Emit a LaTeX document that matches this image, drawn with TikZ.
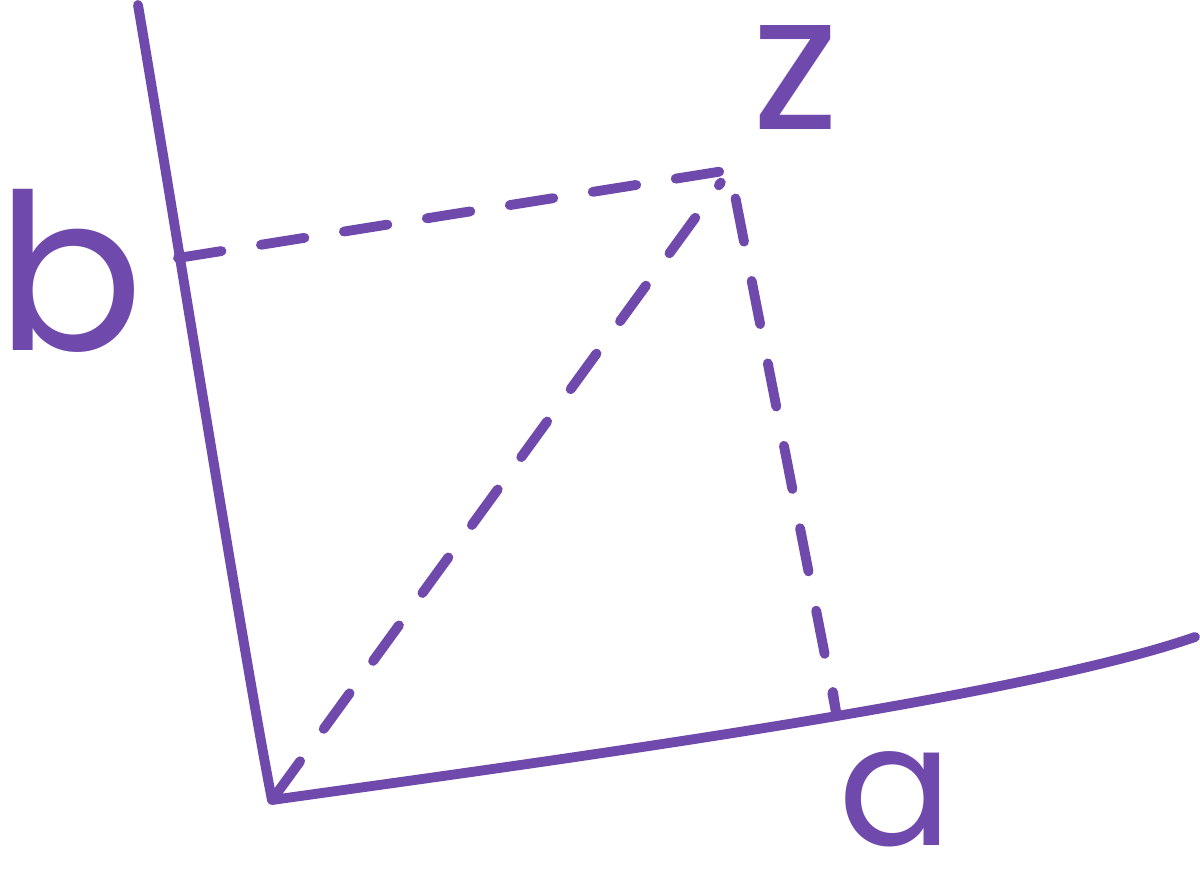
\documentclass[tikz,border=0pt]{standalone}
\usepackage{fontspec}
\setmainfont{Poppins}
\usepackage{tikz}
\usetikzlibrary{calc}
\definecolor{axispurple}{RGB}{112,73,172}

\begin{document}
\begin{tikzpicture}[line width=2.8pt,line cap=round,line join=round,
		every node/.style={text=axispurple,inner sep=0pt},
		axis/.style={draw=axispurple},
		proj/.style={draw=axispurple,dash pattern=on 0.44cm off 0.4cm}]
		\useasboundingbox (0,0) rectangle (12,8.83);
%		\draw[help lines] (0,0) grid (12,9);
		\path (2.72,0.83) coordinate (origin);
		\path (1.38,8.78) coordinate (imtop);
		\path (11.95,2.46) coordinate (reright);
		\path (7.30,7.13) coordinate (zpt);
		\path (1.78,6.25) coordinate (btick);
		\path (8.36,1.71) coordinate (atick);
		\path (8.33,1.91) coordinate (atickend);

		\draw[axis] (imtop) .. controls (1.75,6.6) and (2.45,2.2) .. (origin);
		\draw[axis] (origin) .. controls (5.5,1.22) and (10.2,1.85) .. (reright);
		\draw[axis] (atick) -- (atickend);
		\draw[proj] (btick) -- (zpt) -- (atick);
		\draw[proj] ($(origin)!0.005!(zpt)$) -- ($(zpt)!0.02!(origin)$);

		\node (blabel) at (0.70,6.12) {\fontsize{62}{62}\selectfont b};
		\node (zlabel) at (7.96,8.05) {\fontsize{54}{54}\selectfont z};
		\node (alabel) at (8.96,0.84) {\fontsize{48}{48}\selectfont a};
	\end{tikzpicture}
\end{document}
